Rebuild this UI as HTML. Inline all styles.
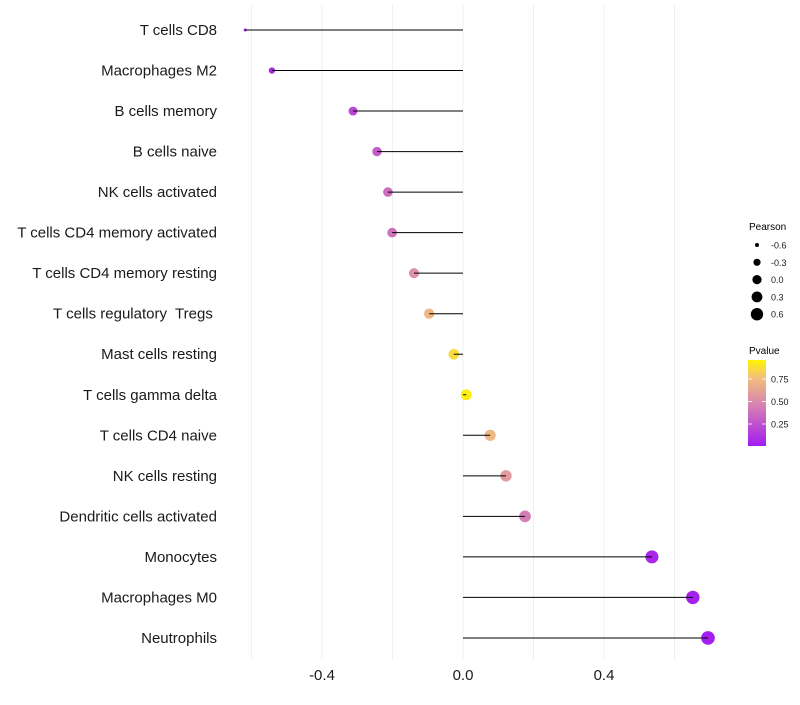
<!DOCTYPE html>
<html><head><meta charset="utf-8"><style>
body{margin:0;background:#fff;font-family:"Liberation Sans",Arial,sans-serif;}
svg text{font-family:"Liberation Sans",Arial,sans-serif;white-space:pre;}
</style></head><body>
<svg id="chart" width="800" height="700">
<defs><linearGradient id="pg" x1="0" y1="1" x2="0" y2="0">
<stop offset="0" stop-color="#a21cf0"/><stop offset="0.5" stop-color="#d987ad"/><stop offset="0.8" stop-color="#f3c07a"/><stop offset="1" stop-color="#fff500"/>
</linearGradient></defs>
<g id="grid"></g><g id="dots"></g><g id="marks"></g><g id="ylab"></g><g id="xlab"></g>
<g id="legend">
<text x="749" y="230" font-size="10">Pearson</text>
<g id="sizeleg"></g>
<text x="749" y="354" font-size="10">Pvalue</text>
<rect x="748" y="360" width="18" height="86" fill="url(#pg)"/>
<g id="colleg"></g>
</g>
</svg>
<script>
const categories=["T cells CD8","Macrophages M2","B cells memory","B cells naive","NK cells activated","T cells CD4 memory activated","T cells CD4 memory resting","T cells regulatory  Tregs ","Mast cells resting","T cells gamma delta","T cells CD4 naive","NK cells resting","Dendritic cells activated","Monocytes","Macrophages M0","Neutrophils"];
const pearson=[-0.618,-0.542,-0.312,-0.244,-0.213,-0.201,-0.139,-0.096,-0.026,0.009,0.077,0.122,0.176,0.536,0.652,0.695];
const pvalue=[0.02,0.05,0.2,0.3,0.38,0.4,0.55,0.75,0.9,0.97,0.75,0.6,0.45,0.05,0.02,0.01];
const xTicks=[-0.4,0.0,0.4];
const xTickLabels=["-0.4","0.0","0.4"];
const xGrid=[-0.6,-0.4,-0.2,0,0.2,0.4,0.6];
const sizeLegend=[-0.6,-0.3,0.0,0.3,0.6];
const sizeLegendLabels=["-0.6","-0.3","0.0","0.3","0.6"];
const colorTicks=[0.25,0.5,0.75];
const colorTickLabels=["0.25","0.50","0.75"];
const NS="http://www.w3.org/2000/svg";
const x=v=>463+v*352.5;
const y=i=>30+i*40.53;
const pmin=Math.min(...pearson),pmax=Math.max(...pearson);
const r=p=>1.5+5.3*Math.pow(Math.max(0,(p-pmin)/(pmax-pmin)),0.4);
const cy=v=>446.5-v*90;
function col(t){const st=[[0,[162,28,240]],[0.5,[217,135,173]],[0.8,[243,192,122]],[1,[255,245,0]]];
for(let k=1;k<st.length;k++){if(t<=st[k][0]){const a=st[k-1],b=st[k],f=(t-a[0])/(b[0]-a[0]);return`rgb(${a[1].map((c,j)=>Math.round(c+(b[1][j]-c)*f)).join(',')})`;}}return'rgb(255,245,0)';}
function mk(tag,attrs,parent,txt){const e=document.createElementNS(NS,tag);for(const k in attrs)e.setAttribute(k,attrs[k]);if(txt!==undefined)e.textContent=txt;document.getElementById(parent).appendChild(e);return e;}
xGrid.forEach(v=>{const e=mk('line',{x1:x(v),x2:x(v),y1:5,y2:660,stroke:'#f0f0f0','stroke-width':1},'grid');

});
categories.forEach((c,i)=>{
const d=mk('circle',{cx:x(pearson[i]),cy:y(i),r:r(pearson[i]),fill:col(pvalue[i])},'dots');


const l=mk('line',{x1:x(0),x2:x(pearson[i]),y1:y(i),y2:y(i),stroke:'#000','stroke-width':1},'marks');


const t=mk('text',{x:217,y:y(i)+5,'text-anchor':'end','font-size':15,fill:'#1a1a1a'},'ylab',c);


});
xTicks.forEach((v,i)=>{const t=mk('text',{x:x(v),y:680,'text-anchor':'middle','font-size':15,fill:'#1a1a1a'},'xlab',xTickLabels[i]);

});
const lr=[2,3.6,4.6,5.4,6.2];
sizeLegend.forEach((p,i)=>{const yy=245+i*17.3;
const c=mk('circle',{cx:757,cy:yy,r:lr[i],fill:'#000'},'sizeleg');


const t=mk('text',{x:771,y:yy+3.5,'font-size':9,fill:'#1a1a1a'},'sizeleg',sizeLegendLabels[i]);

});
colorTicks.forEach((v,i)=>{
const t=mk('text',{x:771,y:cy(v)+3.5,'font-size':9,fill:'#1a1a1a'},'colleg',colorTickLabels[i]);


const a=mk('line',{x1:748,x2:752,y1:cy(v),y2:cy(v),stroke:'#fff','stroke-width':0.8},'colleg');


const b=mk('line',{x1:762,x2:766,y1:cy(v),y2:cy(v),stroke:'#fff','stroke-width':0.8},'colleg');

});
</script>
</body></html>
